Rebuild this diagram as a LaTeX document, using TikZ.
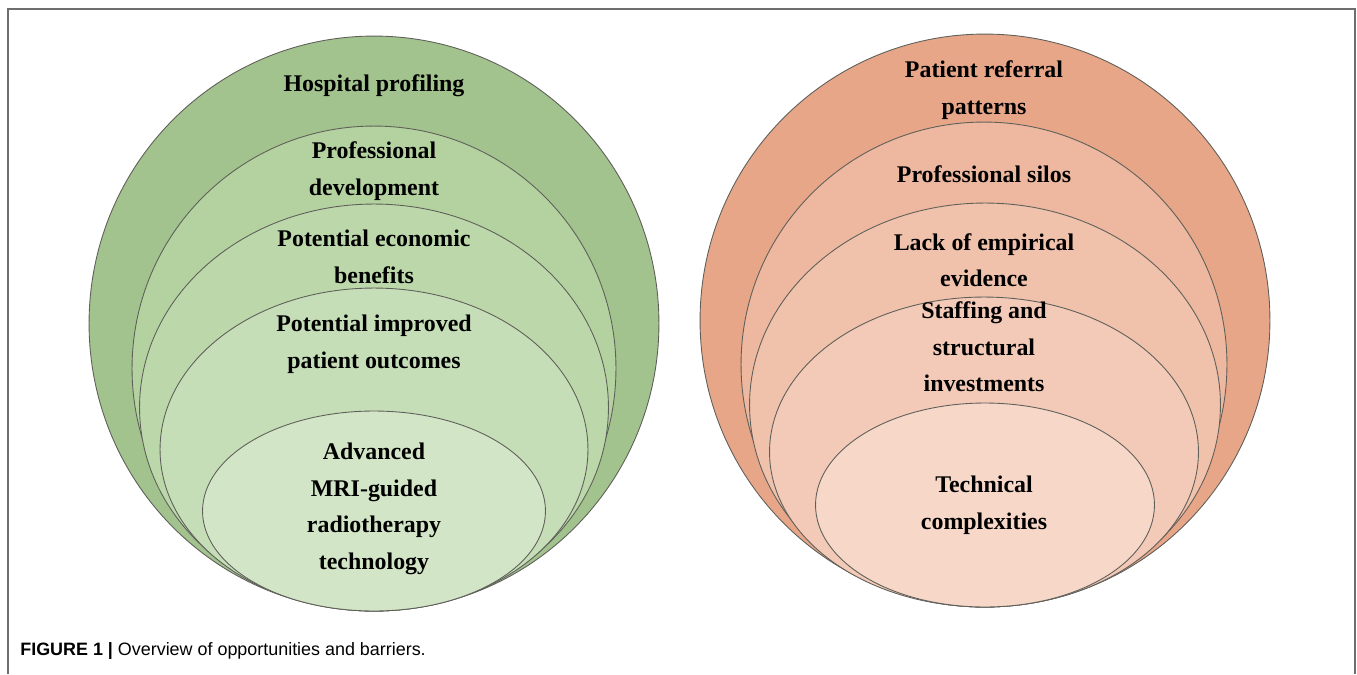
\documentclass[tikz,border=0pt]{standalone}
\usepackage{fontspec}
\setmainfont{Liberation Serif}
\newfontfamily\captionsf{Liberation Sans}
\usepackage{tikz}
\usetikzlibrary{positioning, shapes.geometric}

\definecolor{grnA}{RGB}{162,194,142}
\definecolor{grnB}{RGB}{180,210,160}
\definecolor{grnC}{RGB}{188,216,171}
\definecolor{grnD}{RGB}{198,222,184}
\definecolor{grnE}{RGB}{211,229,199}
\definecolor{pchA}{RGB}{231,166,136}
\definecolor{pchB}{RGB}{237,184,159}
\definecolor{pchC}{RGB}{240,193,171}
\definecolor{pchD}{RGB}{243,202,183}
\definecolor{pchE}{RGB}{247,215,200}
\definecolor{ringline}{RGB}{95,95,90}
\definecolor{framegray}{RGB}{110,110,110}

\begin{document}
\begin{tikzpicture}[
    x=0.02cm, y=-0.02cm,
    ring/.style={ellipse, draw=ringline, line width=0.5pt, inner sep=0pt, fill=#1},
    ringtext/.style={align=center, inner sep=0pt, font=\fontsize{13.6}{20.8}\selectfont\bfseries}
]
\useasboundingbox (0,0) rectangle (1357,674);

% Frame
\draw[framegray, line width=1pt] (8,674) -- (8,9) -- (1355,9) -- (1355,674);

% Opportunities (left)
\node[ring=grnA, minimum width=11.40cm, minimum height=11.50cm] (opp1) at (374,323.5) {};
\node[ring=grnB, minimum width=9.68cm, minimum height=9.70cm] (opp2) at (374,368.5) {};
\node[ring=grnC, minimum width=9.38cm, minimum height=8.14cm] (opp3) at (374,407.5) {};
\node[ring=grnD, minimum width=8.56cm, minimum height=6.46cm] (opp4) at (374,449.5) {};
\node[ring=grnE, minimum width=6.86cm, minimum height=4.00cm] (opp5) at (374,511) {};

\node[ringtext] (opp1t) at (374,86) {Hospital profiling};
\node[ringtext] (opp2t) at (374,171) {Professional\\development};
\node[ringtext] (opp3t) at (374,257) {Potential economic\\benefits};
\node[ringtext] (opp4t) at (374,344) {Potential improved\\patient outcomes};
\node[ringtext] (opp5t) at (374,509) {Advanced\\MRI-guided\\radiotherapy\\technology};

% Barriers (right)
\node[ring=pchA, minimum width=11.40cm, minimum height=11.46cm] (bar1) at (985,320.5) {};
\node[ring=pchB, minimum width=9.72cm, minimum height=9.70cm] (bar2) at (984,364.5) {};
\node[ring=pchC, minimum width=9.42cm, minimum height=8.08cm] (bar3) at (985,405) {};
\node[ring=pchD, minimum width=8.58cm, minimum height=6.20cm] (bar4) at (984,452) {};
\node[ring=pchE, minimum width=6.78cm, minimum height=4.08cm] (bar5) at (985,505) {};

\node[ringtext] (bar1t) at (984,90) {Patient referral\\patterns};
\node[ringtext] (bar2t) at (984,174) {Professional silos};
\node[ringtext] (bar3t) at (984,260) {Lack of empirical\\evidence};
\node[ringtext] (bar4t) at (984,347) {Staffing and\\structural\\investments};
\node[ringtext] (bar5t) at (984,505) {Technical\\complexities};

% Caption
\node[anchor=west, inner sep=0pt, font=\captionsf\fontsize{10.2}{12}\selectfont] (caption) at (20,651)
  {{\bfseries FIGURE 1 |} Overview of opportunities and barriers.};

\end{tikzpicture}
\end{document}
